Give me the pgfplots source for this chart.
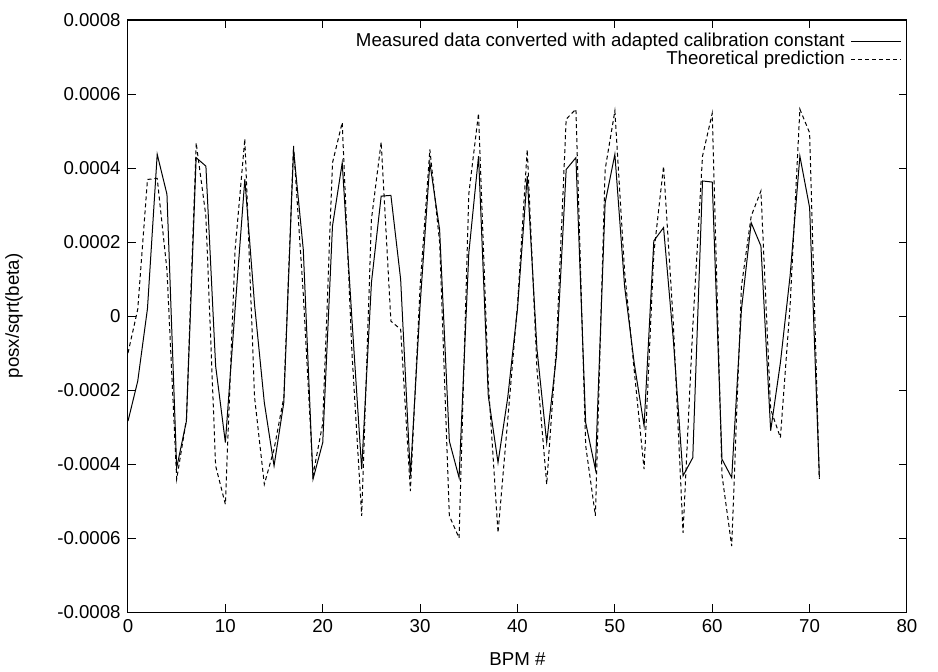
\documentclass[border=0pt]{standalone}
\usepackage{pgfplots}
\pgfplotsset{compat=1.18}
\usepackage{pgfplotstable}
\usepackage{fontspec}
\setmainfont{Liberation Sans}
\pgfplotstableread{
x y
0 -0.000284
1 -0.000176
2 0.00002
3 0.000437
4 0.000329
5 -0.00041
6 -0.000284
7 0.000428
8 0.000405
9 -0.000135
10 -0.000342
11 0.00002
12 0.00037
13 0.00003
14 -0.000234
15 -0.000405
16 -0.000234
17 0.00045
18 0.00018
19 -0.000441
20 -0.000342
21 0.000243
22 0.000414
23 -0.00001
24 -0.000414
25 0.00009
26 0.000324
27 0.000326
28 0.000099
29 -0.000432
30 0.00003
31 0.000414
32 0.000234
33 -0.000338
34 -0.000437
35 0.00017
36 0.000432
37 -0.000216
38 -0.000396
39 -0.00022
40 0.00002
41 0.000378
42 -0.00009
43 -0.000342
44 -0.000108
45 0.000396
46 0.000428
47 -0.000288
48 -0.000414
49 0.000306
50 0.000437
51 0.00008
52 -0.00013
53 -0.000297
54 0.000203
55 0.000239
56 -0.000063
57 -0.000432
58 -0.000383
59 0.000365
60 0.000362
61 -0.000387
62 -0.000437
63 0.000018
64 0.000252
65 0.000189
66 -0.00031
67 -0.000126
68 0.00011
69 0.000432
70 0.000293
71 -0.000437
}\measured
\pgfplotstableread{
x y
0 -0.0001
1 0.000018
2 0.000369
3 0.000372
4 0.000125
5 -0.000441
6 -0.00028
7 0.000468
8 0.00027
9 -0.000405
10 -0.000509
11 0.00018
12 0.000479
13 -0.00022
14 -0.000455
15 -0.00036
16 -0.00022
17 0.00046
18 0.00006
19 -0.00043
20 -0.00029
21 0.000414
22 0.000523
23 -0.0001
24 -0.00054
25 0.000261
26 0.00047
27 -0.000014
28 -0.000036
29 -0.000473
30 0.00008
31 0.00045
32 0.0002
33 -0.00054
34 -0.0006
35 0.00033
36 0.000548
37 -0.00018
38 -0.000586
39 -0.00028
40 0.00003
41 0.00045
42 -0.000144
43 -0.000455
44 -0.00008
45 0.000532
46 0.000559
47 -0.00035
48 -0.00054
49 0.000396
50 0.000554
51 0.00012
52 -0.00015
53 -0.000414
54 0.00017
55 0.000405
56 -0.000018
57 -0.000586
58 -0.00003
59 0.000432
60 0.000548
61 -0.00043
62 -0.000622
63 0.00008
64 0.00027
65 0.000338
66 -0.000252
67 -0.000329
68 0.00003
69 0.000559
70 0.000495
71 -0.00044
}\theory
\begin{document}
\begin{tikzpicture}
\useasboundingbox (-96pt,-44.25pt) rectangle (607.5pt,459pt);
\begin{axis}[
  scale only axis,
  width=584.25pt, height=444pt,
  at={(0,0)}, anchor=south west,
  xmin=0, xmax=80, ymin=-0.0008, ymax=0.0008,
  xtick={0,10,20,30,40,50,60,70,80},
  xticklabels={0,10,20,30,40,50,60,70,80},
  ytick={-0.0008,-0.0006,-0.0004,-0.0002,0,0.0002,0.0004,0.0006,0.0008},
  yticklabels={-0.0008,-0.0006,-0.0004,-0.0002,0,0.0002,0.0004,0.0006,0.0008},
  scaled y ticks=false,
  tick align=inside,
  major tick length=6pt,
  minor tick num=0,
  axis line style={line width=0.75pt},
  every tick/.style={black, line width=0.75pt},
  font=\fontsize{14}{17}\selectfont,
  tick label style={font=\fontsize{14}{17}\selectfont},
  xticklabel style={yshift=-2pt},
  yticklabel style={xshift=-2pt},
  xlabel={BPM \#},
  ylabel={posx/sqrt(beta)},
  xlabel style={at={(axis description cs:0.5,0)}, anchor=center, yshift=-35.25pt},
  ylabel style={at={(axis description cs:0,0.5)}, anchor=center, yshift=85.5pt},
  legend plot pos=right,
  legend cell align=right,
  legend style={at={(1,1)}, anchor=north east, xshift=-0.75pt, yshift=-7.5pt,
    draw=none, fill=none, font=\fontsize{14}{17}\selectfont,
    row sep=0pt, column sep=4.5pt,
    nodes={inner sep=0pt, text height=10pt, text depth=3.5pt}},
  legend image code/.code={\draw[#1] (0pt,0pt) -- (37.5pt,0pt);},
]
\addplot[black, line width=0.75pt] table[x=x,y=y] {\measured};
\addlegendentry{Measured data converted with adapted calibration constant}
\addplot[black, line width=0.75pt, dash pattern=on 3pt off 2.25pt] table[x=x,y=y] {\theory};
\addlegendentry{Theoretical prediction}
\end{axis}
\end{tikzpicture}
\end{document}
